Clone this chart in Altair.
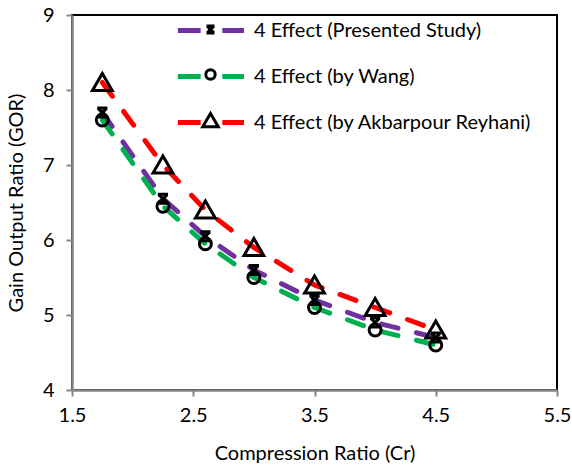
import altair as alt
import pandas as pd

# ---- data ----
series = ["4 Effect (Presented Study)", "4 Effect (by Wang)", "4 Effect (by Akbarpour Reyhani)"]
marker_keys = ["m1", "m2", "m3"]
cr = [1.75, 2.25, 2.6, 3.0, 3.5, 4.0, 4.5]
gor_present = [7.7, 6.55, 6.05, 5.6, 5.2, 4.9, 4.7]
gor_wang = [7.6, 6.45, 5.95, 5.5, 5.1, 4.8, 4.6]
gor_akbar = [8.1, 7.0, 6.4, 5.9, 5.4, 5.1, 4.8]
x_ticks = [1.5, 2.5, 3.5, 4.5, 5.5]
y_ticks = [4, 5, 6, 7, 8, 9]

colors = ["#7030A0", "#00B050", "#FF0000"]

rows = []
for name, key, vals in zip(series, marker_keys, [gor_present, gor_wang, gor_akbar]):
    for c, g in zip(cr, vals):
        rows.append({"Series": name, "Marker": key, "CR": c, "GOR": g})
df = pd.DataFrame(rows)

# marker shapes (custom symbol paths)
x_path = "M-0.145,-0.14L0.145,0.14M0.145,-0.14L-0.145,0.14M-0.17,-0.15H0.17M-0.17,0.15H0.17"
circle_path = "M0.2,0A0.2,0.2 0 1,1 -0.2,0A0.2,0.2 0 1,1 0.2,0Z"
tri_path = "M0,-0.3L0.33,0.27L-0.33,0.27Z"
line_sym = "M-1.43,0H-0.46M0.46,0H1.38"

FONT = "Lato"
FS = 20
LEG_SIZE = 2213
LEG_X = 113
LEG_Y = -11
ROW_PAD = 9

x_enc = alt.X("CR:Q", scale=alt.Scale(domain=[1.5, 5.5], nice=False, zero=False),
              axis=alt.Axis(values=x_ticks, format=".1f", title="Compression Ratio (Cr)",
                            labelFlush=False, titlePadding=18, labelPadding=9))
y_enc = alt.Y("GOR:Q", scale=alt.Scale(domain=[4, 9], nice=False, zero=False),
              axis=alt.Axis(values=y_ticks, format="d", title="Gain Output Ratio (GOR)",
                            titlePadding=16, labelPadding=12))

lines = alt.Chart(df).mark_line(strokeWidth=5, strokeDash=[17, 19], strokeCap="round").encode(
    x=x_enc, y=y_enc,
    color=alt.Color("Series:N", sort=series,
                    scale=alt.Scale(domain=series, range=colors),
                    legend=alt.Legend(orient="none", legendX=LEG_X, legendY=LEG_Y, title=None,
                                      symbolType=line_sym, symbolSize=LEG_SIZE,
                                      symbolStrokeWidth=5, symbolDash=[100, 0],
                                      labelFont=FONT, labelFontSize=FS, labelColor="black",
                                      labelOffset=16, rowPadding=ROW_PAD, padding=0,
                                      labelLimit=400)),
    order=alt.Order("CR:Q"),
)

points = alt.Chart(df).mark_point(filled=False, strokeWidth=3, color="black", opacity=1).encode(
    x=x_enc, y=y_enc,
    shape=alt.Shape("Marker:N", sort=marker_keys,
                    scale=alt.Scale(domain=marker_keys, range=[x_path, circle_path, tri_path]),
                    legend=alt.Legend(orient="none", legendX=LEG_X, legendY=LEG_Y, title=None,
                                      symbolSize=LEG_SIZE, symbolStrokeWidth=3,
                                      symbolStrokeColor="black", symbolFillColor="transparent",
                                      labelFont=FONT, labelFontSize=FS, labelExpr="' '",
                                      labelOffset=16, rowPadding=ROW_PAD, padding=0)),
    size=alt.value(3600),
)

chart = alt.layer(lines, points).properties(
    width=485, height=375,
    padding={"left": 72, "top": 15, "right": 15, "bottom": 76},
    autosize=alt.AutoSizeParams(type="none"),
).configure_view(
    stroke="black", strokeWidth=2
).configure_axis(
    grid=False, domainColor="#868686", domainWidth=2.5, tickColor="#868686", tickWidth=2,
    tickSize=6, labelFont=FONT, labelFontSize=FS, labelColor="black",
    titleFont=FONT, titleFontSize=FS, titleColor="black", titleFontWeight="normal",
)

chart.save("out.html", embed_options={"renderer": "svg", "actions": False})
